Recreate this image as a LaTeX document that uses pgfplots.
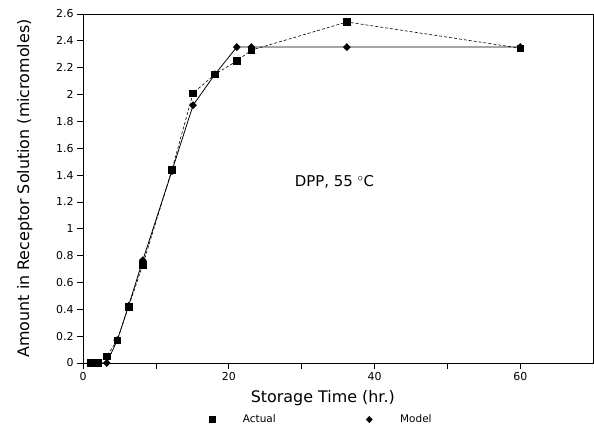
\documentclass[border=0pt]{standalone}
\usepackage{pgfplots}
\pgfplotsset{compat=1.18}
\usepackage{fontspec}
\setmainfont{DejaVu Sans}

\begin{document}
\begin{tikzpicture}

\begin{axis}[
scale only axis,
width=513pt, height=351pt,
xmin=0, xmax=70,
ymin=0, ymax=2.6,
xtick={0,20,40,60},
minor xtick={10,30,50},
ytick={0,0.2,...,2.61},
tick align=outside,
tick pos=left,
major tick length=6pt,
minor tick length=6pt,
tick style={black, line width=0.6pt},
axis line style={line width=0.6pt},
/pgf/number format/assume math mode=true,
tick label style={font=\fontsize{11}{13}\selectfont},
xlabel={Storage Time (hr.)},
ylabel={Amount in Receptor Solution (micromoles)},
label style={font=\fontsize{16}{19}\selectfont},
xlabel style={at={(axis description cs:0.47,-0.1)}, anchor=center},
ylabel style={at={(axis description cs:-0.114,0.5)}, anchor=center},
legend columns=2,
legend style={at={(axis description cs:0.241,-0.162)}, anchor=west,
  draw=none, fill=none, font=\fontsize{10.5}{12}\selectfont,
  /tikz/every odd column/.append style={column sep=26pt},
  /tikz/every even column/.append style={column sep=89pt}},
]

\addplot[black, line width=0.6pt, dash pattern=on 3pt off 2pt,
  mark=square*, mark size=3.3pt, mark options={solid}, forget plot]
table {
1     0
2     0
3.25  0.05
4.7   0.17
6.25  0.42
8.2   0.73
12.2  1.44
15.1  2.01
18.1  2.15
21.1  2.25
23.1  2.33
36.2  2.54
60    2.345
};

\addplot[black, line width=0.8pt,
  mark=diamond*, mark size=3.4pt, mark options={xscale=1.3}, forget plot]
table {
1     0
2     0
3.25  0
4.7   0.17
6.25  0.425
8.2   0.765
12.2  1.43
15.1  1.92
18.1  2.15
21.1  2.353
23.1  2.353
36.2  2.353
60    2.353
};

\addlegendimage{only marks, black, mark=square*, mark size=3pt}
\addlegendentry{Actual}
\addlegendimage{only marks, black, mark=diamond*, mark size=3.2pt, mark options={xscale=1.3}}
\addlegendentry{Model}

\node[font=\fontsize{15}{18}\selectfont] at (axis cs:34.5,1.35) {DPP,\ 55 $^{\circ}$C};

\coordinate (bl) at (axis description cs:-0.1627,-0.1994);
\coordinate (tr) at (axis description cs:1.0016,1.0399);
\end{axis}
\pgfresetboundingbox
\path (bl) rectangle (tr);
\end{tikzpicture}
\end{document}
